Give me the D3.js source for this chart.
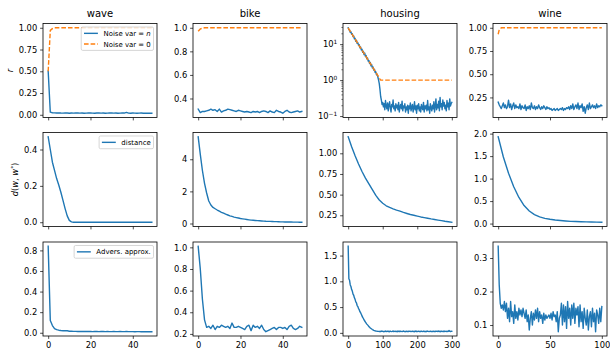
<!DOCTYPE html>
<html><head><meta charset="utf-8">
<script src="https://cdn.jsdelivr.net/npm/d3@7"></script>
<style>body{margin:0;background:#fff} text{font-family:"DejaVu Sans",sans-serif}</style>
</head><body><svg id="c" width="610" height="350"></svg>
<script>
// ---------------- DATA ----------------
const titles = ["wave", "bike", "housing", "wine"];
const iters50 = d3.range(0, 50);
const iters100 = d3.range(0, 101);
const housingStep2 = d3.range(0, 301, 2);
const housingStep10 = d3.range(0, 301, 10);
const wineStep5 = d3.range(0, 101, 5);

// Row 1: r
const waveRNoise = [0.50,0.030,0.024,0.022,0.021,0.022,0.020,0.019,0.021,0.020,
0.018,0.020,0.019,0.021,0.020,0.019,0.020,0.018,0.019,0.020,
0.021,0.019,0.018,0.020,0.021,0.019,0.020,0.018,0.019,0.020,
0.021,0.019,0.020,0.018,0.019,0.021,0.020,0.028,0.019,0.018,
0.020,0.019,0.018,0.019,0.020,0.018,0.019,0.018,0.019,0.018];
const waveCleanX = [0, 1, 2, 3, 49];
const waveRClean = [0.50, 0.97, 0.99, 1.0, 1.0];

const bikeRNoise = [0.31,0.28,0.29,0.29,0.295,0.30,0.31,0.30,0.305,0.29,
0.31,0.285,0.295,0.30,0.31,0.305,0.30,0.295,0.29,0.30,
0.295,0.29,0.285,0.29,0.285,0.28,0.29,0.285,0.29,0.28,
0.29,0.295,0.29,0.28,0.295,0.285,0.28,0.30,0.29,0.285,
0.275,0.29,0.30,0.285,0.28,0.285,0.29,0.295,0.285,0.29];
const bikeCleanX = [0, 1, 2, 3, 49];
const bikeRClean = [0.97, 0.99, 0.996, 1.0, 1.0];

const housingRNoise = [28.5,25.0,24.8,21.5,22.0,18.8,19.5,16.2,16.8,14.0,
14.5,12.0,12.8,10.6,11.0,9.2,9.6,7.9,8.3,6.9,
7.2,5.9,6.3,5.1,5.6,4.5,4.8,3.9,4.1,3.4,
3.5,2.9,3.1,2.5,2.7,2.2,2.3,1.9,2.0,1.65,
1.7,1.4,1.45,1.2,1.0,0.8,0.55,0.35,0.28,0.21,
0.24,
0.18,0.22,0.15,0.27,0.19,0.16,0.23,0.14,0.2,0.25,
0.17,0.13,0.21,0.18,0.28,0.16,0.19,0.14,0.22,0.17,
0.2,0.15,0.24,0.13,0.18,0.21,0.16,0.26,0.14,0.19,
0.17,0.22,0.13,0.18,0.15,0.2,0.12,0.19,0.16,0.23,
0.14,0.18,0.21,0.13,0.17,0.25,0.15,0.19,0.12,0.2,
0.16,0.22,0.14,0.18,0.13,0.21,0.17,0.15,0.24,0.13,
0.19,0.16,0.2,0.14,0.27,0.15,0.18,0.12,0.22,0.17,
0.14,0.2,0.16,0.25,0.13,0.19,0.3,0.15,0.21,0.17,
0.26,0.14,0.33,0.18,0.22,0.15,0.28,0.19,0.24,0.16,
0.2,0.14,0.27,0.18,0.23,0.15,0.3,0.19,0.22,0.24];
const housingCleanX = d3.range(0, 96, 2).concat([300]);
const housingRClean = [28.2,26.2,24.4,22.8,21.2,19.8,18.4,17.1,16.0,14.9,
13.9,12.9,12.0,11.2,10.4,9.7,9.0,8.4,7.85,7.3,
6.8,6.34,5.9,5.5,5.13,4.77,4.45,4.14,3.86,3.59,
3.35,3.12,2.9,2.7,2.52,2.34,2.18,2.03,1.9,1.77,
1.64,1.53,1.43,1.33,1.24,1.15,1.07,1.0,
1.0];

const wineRNoise = [0.20,0.17,0.15,0.13,0.16,0.19,0.14,0.17,0.13,0.15,
0.22,0.14,0.18,0.12,0.16,0.19,0.13,0.17,0.14,0.15,
0.13,0.18,0.12,0.16,0.14,0.13,0.17,0.11,0.15,0.13,
0.16,0.12,0.19,0.14,0.13,0.16,0.12,0.15,0.13,0.17,
0.14,0.12,0.15,0.13,0.16,0.14,0.12,0.15,0.13,0.14,
0.12,0.13,0.11,0.12,0.13,0.11,0.12,0.13,0.11,0.12,
0.13,0.12,0.14,0.11,0.13,0.12,0.14,0.13,0.15,0.12,
0.16,0.13,0.18,0.12,0.15,0.17,0.13,0.19,0.12,0.16,
0.14,0.18,0.10,0.15,0.08,0.14,0.17,0.12,0.19,0.13,
0.15,0.17,0.14,0.16,0.13,0.18,0.14,0.16,0.15,0.17,
0.16];
const wineCleanX = [0, 1, 2, 3, 100];
const wineRClean = [0.93, 0.98, 0.99, 1.0, 1.0];

// Row 2: distance
const waveDist = [0.47,0.40,0.33,0.285,0.24,0.205,0.165,0.12,0.075,0.035,
0.01,0.002,0,0,0,0,0,0,0,0,
0,0,0,0,0,0,0,0,0,0,
0,0,0,0,0,0,0,0,0,0,
0,0,0,0,0,0,0,0,0,0];
const bikeDist = [5.4,4.3,3.3,2.5,1.9,1.4,1.15,1.0,0.92,0.84,
0.77,0.70,0.64,0.58,0.53,0.48,0.44,0.40,0.37,0.34,
0.31,0.29,0.27,0.25,0.23,0.21,0.20,0.19,0.18,0.17,
0.16,0.15,0.14,0.135,0.13,0.125,0.12,0.115,0.11,0.105,
0.10,0.098,0.095,0.092,0.09,0.088,0.086,0.084,0.082,0.08];
const housingDist = [1.2,1.08,0.97,0.87,0.78,0.70,0.63,0.56,0.49,0.435,
0.395,0.365,0.345,0.328,0.313,0.30,0.285,0.272,0.26,0.25,
0.24,0.23,0.222,0.214,0.206,0.199,0.192,0.185,0.178,0.172,
0.166];
const wineDist = [1.93,1.48,1.12,0.82,0.58,0.40,0.28,0.20,0.15,0.115,
0.095,0.08,0.068,0.058,0.05,0.045,0.04,0.037,0.034,0.032,0.03];

// Row 3: adversarial approximation
const waveAdv = [0.84,0.12,0.07,0.04,0.03,0.025,0.022,0.02,0.02,0.019,
0.015,0.014,0.013,0.013,0.012,0.013,0.012,0.012,0.013,0.012,
0.012,0.011,0.012,0.012,0.011,0.012,0.012,0.011,0.012,0.011,
0.011,0.012,0.011,0.011,0.012,0.011,0.011,0.012,0.011,0.011,
0.011,0.010,0.011,0.011,0.010,0.011,0.010,0.011,0.010,0.010];
const bikeAdv = [1.01,0.80,0.52,0.33,0.26,0.27,0.25,0.28,0.24,0.27,
0.26,0.28,0.27,0.26,0.27,0.25,0.30,0.26,0.26,0.27,
0.26,0.25,0.24,0.27,0.28,0.23,0.28,0.26,0.27,0.25,
0.28,0.24,0.22,0.23,0.24,0.25,0.26,0.24,0.26,0.26,
0.25,0.26,0.24,0.27,0.28,0.25,0.24,0.25,0.27,0.26];
const housingAdv = [1.68,1.05,1.02,0.93,0.90,0.84,0.81,0.75,0.73,0.68,
0.65,0.60,0.58,0.53,0.51,0.47,0.45,0.41,0.39,0.36,
0.33,0.30,0.28,0.25,0.23,0.21,0.19,0.17,0.155,0.14,
0.12,0.11,0.095,0.085,0.075,0.065,0.058,0.05,0.045,0.04,
0.036,0.033,0.03,0.028,0.028,0.026,
0.03,0.025,0.035,0.028,0.032,0.022,0.03,0.027,0.036,0.024,
0.029,0.033,0.026,0.031,0.023,0.034,0.028,0.025,0.03,0.037,
0.024,0.029,0.032,0.026,0.03,0.022,0.035,0.027,0.031,0.025,
0.033,0.028,0.024,0.03,0.036,0.026,0.029,0.023,0.032,0.027,
0.03,0.025,0.034,0.028,0.031,0.024,0.029,0.033,0.026,0.03,
0.022,0.035,0.027,0.031,0.025,0.029,0.033,0.026,0.03,0.024,
0.032,0.028,0.025,0.034,0.027,0.03,0.023,0.031,0.026,0.035,
0.028,0.024,0.03,0.033,0.026,0.029,0.025,0.032,0.027,0.03,
0.024,0.034,0.028,0.031,0.025,0.038,0.027,0.03,0.023,0.033,
0.028,0.026,0.031,0.025,0.035,0.029,0.024,0.032,0.027,0.03,
0.045,0.028,0.026,0.031,0.03];
const wineAdv = [0.335,0.22,0.165,0.15,0.16,0.145,0.17,0.14,0.165,0.12,
0.15,0.11,0.17,0.125,0.14,0.105,0.16,0.12,0.14,0.115,
0.15,0.13,0.145,0.125,0.15,0.135,0.12,0.145,0.11,0.13,
0.085,0.12,0.14,0.1,0.135,0.115,0.145,0.12,0.15,0.11,
0.14,0.12,0.13,0.105,0.135,0.115,0.13,0.12,0.125,0.13,
0.12,0.135,0.115,0.14,0.125,0.13,0.11,0.14,0.08,0.12,
0.13,0.165,0.1,0.16,0.11,0.155,0.09,0.17,0.12,0.15,
0.1,0.16,0.12,0.165,0.105,0.15,0.13,0.155,0.095,0.16,
0.11,0.14,0.09,0.15,0.12,0.1,0.145,0.085,0.125,0.14,
0.095,0.15,0.11,0.135,0.08,0.145,0.13,0.105,0.15,0.11,
0.155];

// tick values
const xTicks50 = [0, 20, 40];
const xTicksHousing = [0, 100, 200, 300];
const xTicksWine = [0, 50, 100];
const yTicks = {
  waveR: [0, 0.25, 0.5, 0.75, 1.0], bikeR: [0.4, 0.6, 0.8, 1.0], housingR: [0.1, 1, 10], wineR: [0.25, 0.5, 0.75, 1.0],
  waveD: [0, 0.2, 0.4], bikeD: [0, 2, 4], housingD: [0.25, 0.5, 0.75, 1.0], wineD: [0, 0.5, 1.0, 1.5, 2.0],
  waveA: [0, 0.2, 0.4, 0.6, 0.8], bikeA: [0.2, 0.4, 0.6, 0.8, 1.0], housingA: [0, 0.5, 1.0, 1.5], wineA: [0.1, 0.2, 0.3]
};
const legendR = [{label: ["Noise var = ", "n"], dash: false}, {label: ["Noise var = 0"], dash: true}];
const legendD = [{label: ["distance"], dash: false}];
const legendA = [{label: ["Advers. approx."], dash: false}];

// ---------------- DRAWING ----------------
const blue = "#1f77b4", orange = "#ff7f0e";
const colLeft = [43, 193, 343, 493], axW = 114;
const rowTop = [23.5, 132.5, 242], axH = 94;
const tickFs = 8.33, lw = 1.4;
const svg = d3.select("#c");
svg.append("rect").attr("width", 610).attr("height", 350).attr("fill", "#fff");

const panels = [
  {row:0,col:0, series:[{x:iters50,y:waveRNoise,c:blue},{x:waveCleanX,y:waveRClean,c:orange,dash:true}], yt:yTicks.waveR, fmt:".2f", xt:xTicks50, legend:legendR},
  {row:0,col:1, series:[{x:iters50,y:bikeRNoise,c:blue},{x:bikeCleanX,y:bikeRClean,c:orange,dash:true}], yt:yTicks.bikeR, fmt:".1f", xt:xTicks50},
  {row:0,col:2, series:[{x:housingStep2,y:housingRNoise,c:blue},{x:housingCleanX,y:housingRClean,c:orange,dash:true}], yt:yTicks.housingR, log:true, xt:xTicksHousing},
  {row:0,col:3, series:[{x:iters100,y:wineRNoise,c:blue},{x:wineCleanX,y:wineRClean,c:orange,dash:true}], yt:yTicks.wineR, fmt:".2f", xt:xTicksWine},
  {row:1,col:0, series:[{x:iters50,y:waveDist,c:blue}], yt:yTicks.waveD, fmt:".1f", xt:xTicks50, legend:legendD},
  {row:1,col:1, series:[{x:iters50,y:bikeDist,c:blue}], yt:yTicks.bikeD, fmt:"d", xt:xTicks50},
  {row:1,col:2, series:[{x:housingStep10,y:housingDist,c:blue}], yt:yTicks.housingD, fmt:".2f", xt:xTicksHousing},
  {row:1,col:3, series:[{x:wineStep5,y:wineDist,c:blue}], yt:yTicks.wineD, fmt:".1f", xt:xTicksWine},
  {row:2,col:0, series:[{x:iters50,y:waveAdv,c:blue}], yt:yTicks.waveA, fmt:".1f", xt:xTicks50, legend:legendA},
  {row:2,col:1, series:[{x:iters50,y:bikeAdv,c:blue}], yt:yTicks.bikeA, fmt:".1f", xt:xTicks50},
  {row:2,col:2, series:[{x:housingStep2,y:housingAdv,c:blue}], yt:yTicks.housingA, fmt:".1f", xt:xTicksHousing},
  {row:2,col:3, series:[{x:iters100,y:wineAdv,c:blue}], yt:yTicks.wineA, fmt:".1f", xt:xTicksWine},
];

function styleAxis(ag){
  ag.select(".domain").remove();
  ag.attr("font-family", "DejaVu Sans").attr("font-size", tickFs);
  ag.selectAll(".tick line").attr("stroke", "#000").attr("stroke-width", 0.7);
  ag.selectAll(".tick text").attr("fill", "#000");
}

function drawLegend(g, items, colors){
  const fs = 6.94, pad = 2.78, hl = 13.9, htp = 5.55, ls = 3.47, rowH = 7.2, bap = 3.47;
  const lg = g.append("g");
  const rect = lg.append("rect");
  const texts = items.map(it => {
    const t = lg.append("text").attr("font-size", fs).attr("fill", "#000");
    it.label.forEach((s, k) => t.append("tspan").attr("font-style", k === 1 ? "italic" : null).text(s));
    return t;
  });
  const maxW = d3.max(texts, t => t.node().getComputedTextLength());
  const W = pad * 2 + hl + htp + maxW, H = pad * 2 + items.length * rowH + (items.length - 1) * ls;
  const x0 = axW - bap - W, y0 = bap;
  rect.attr("x", x0).attr("y", y0).attr("width", W).attr("height", H).attr("rx", 1.5)
    .attr("fill", "#fff").attr("fill-opacity", 0.8).attr("stroke", "#cccccc").attr("stroke-width", 0.8);
  items.forEach((it, i) => {
    const cy = y0 + pad + i * (rowH + ls) + rowH / 2;
    lg.append("line").attr("x1", x0 + pad).attr("x2", x0 + pad + hl).attr("y1", cy).attr("y2", cy)
      .attr("stroke", colors[i]).attr("stroke-width", lw).attr("stroke-dasharray", it.dash ? "4.6,2" : null);
    texts[i].attr("x", x0 + pad + hl + htp).attr("y", cy + fs * 0.36);
  });
}

panels.forEach((p, idx) => {
  const g = svg.append("g").attr("transform", `translate(${colLeft[p.col]},${rowTop[p.row]})`);
  const allX = p.series.flatMap(s => s.x), allY = p.series.flatMap(s => s.y);
  const [xa, xb] = d3.extent(allX), xr = xb - xa;
  const x = d3.scaleLinear().domain([xa - 0.05 * xr, xb + 0.05 * xr]).range([0, axW]);
  let y;
  if (p.log) {
    const la = Math.log10(d3.min(allY)), lb = Math.log10(d3.max(allY)), lr = lb - la;
    y = d3.scaleLog().domain([Math.pow(10, la - 0.05 * lr), Math.pow(10, lb + 0.05 * lr)]).range([axH, 0]);
  } else {
    const [ya, yb] = d3.extent(allY), yr = yb - ya;
    y = d3.scaleLinear().domain([ya - 0.05 * yr, yb + 0.05 * yr]).range([axH, 0]);
  }
  const cid = "clip" + idx;
  g.append("clipPath").attr("id", cid).append("rect").attr("width", axW).attr("height", axH);
  const lgp = g.append("g").attr("clip-path", `url(#${cid})`);
  p.series.forEach(s => {
    lgp.append("path").datum(s.y.map((v, i) => [s.x[i], v]))
      .attr("d", d3.line().x(d => x(d[0])).y(d => y(d[1])))
      .attr("fill", "none").attr("stroke", s.c).attr("stroke-width", lw)
      .attr("stroke-linejoin", "round").attr("stroke-linecap", s.dash ? "butt" : "square")
      .attr("stroke-dasharray", s.dash ? "4.6,2" : null);
  });
  // x axis
  const xAxis = d3.axisBottom(x).tickValues(p.xt).tickSize(2.9).tickPadding(2.9)
    .tickFormat(p.row === 2 ? d3.format("d") : () => "");
  styleAxis(g.append("g").attr("transform", `translate(0,${axH})`).call(xAxis));
  // y axis
  if (p.log) {
    const minor = [];
    [0.01, 0.1, 1, 10].forEach(b => { for (let m = 2; m <= 9; m++) minor.push(b * m); });
    const dom = y.domain();
    const mt = minor.filter(v => v >= dom[0] && v <= dom[1]);
    const ma = g.append("g").call(d3.axisLeft(y).tickValues(mt).tickSize(1.67).tickFormat(() => ""));
    styleAxis(ma); ma.selectAll(".tick line").attr("stroke-width", 0.5);
    const ya = g.append("g").call(d3.axisLeft(y).tickValues(p.yt).tickSize(2.9).tickPadding(2.9).tickFormat(() => ""));
    styleAxis(ya);
    ya.selectAll(".tick text").each(function(d){
      const t = d3.select(this);
      const e = Math.round(Math.log10(d));
      t.append("tspan").text("10");
      t.append("tspan").attr("font-size", tickFs * 0.7).attr("dy", -3.3).text(e < 0 ? "\u2212" + (-e) : String(e));
    });
  } else {
    const ya = g.append("g").call(d3.axisLeft(y).tickValues(p.yt).tickSize(2.9).tickPadding(2.9).tickFormat(d3.format(p.fmt)));
    styleAxis(ya);
  }
  // spines
  g.append("rect").attr("width", axW).attr("height", axH).attr("fill", "none").attr("stroke", "#000").attr("stroke-width", 0.8);
  if (p.row === 0) {
    g.append("text").attr("x", axW / 2).attr("y", -7).attr("text-anchor", "middle").attr("font-size", 10).attr("fill", "#000").text(titles[p.col]);
  }
  if (p.legend) drawLegend(g, p.legend, p.legend.length === 2 ? [blue, orange] : [blue]);
});

// y labels
svg.append("text").attr("transform", `translate(12.5,${rowTop[0] + axH / 2}) rotate(-90)`)
  .attr("text-anchor", "middle").attr("font-size", tickFs).attr("font-style", "italic").text("r");
const yl2 = svg.append("text").attr("transform", `translate(18,${rowTop[1] + axH / 2}) rotate(-90)`)
  .attr("text-anchor", "middle").attr("font-size", tickFs);
yl2.append("tspan").attr("font-style", "italic").text("d");
yl2.append("tspan").text("(");
yl2.append("tspan").attr("font-style", "italic").text("w");
yl2.append("tspan").text(", ");
yl2.append("tspan").attr("font-style", "italic").text("w");
yl2.append("tspan").attr("font-size", tickFs * 0.7).attr("dy", -3).text("*");
yl2.append("tspan").attr("dy", 3).text(")");
</script></body></html>
